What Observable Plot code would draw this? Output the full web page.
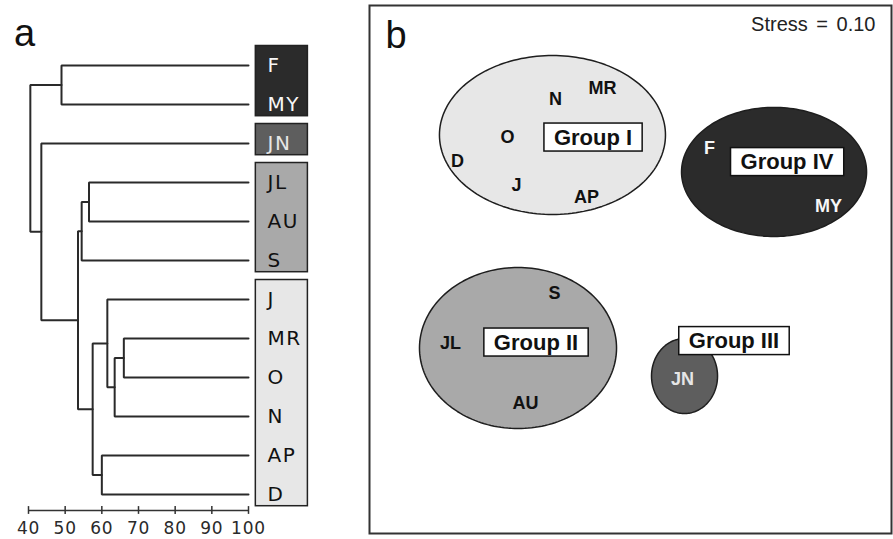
<!DOCTYPE html>
<html>
<head>
<meta charset="utf-8">
<script src="https://cdn.jsdelivr.net/npm/d3@7"></script>
<script src="https://cdn.jsdelivr.net/npm/@observablehq/plot@0.6"></script>
<style>
  body { margin: 0; background: #fff; }
  #chart { position: relative; width: 893px; height: 539px; overflow: hidden; background: #fff; }
  #chart svg { position: absolute; top: 0; }
</style>
</head>
<body>
<div id="chart"></div>
<script>
// ---------- (a) cluster dendrogram, Bray-Curtis similarity (%) ----------
const leafNames = ["F", "MY", "JN", "JL", "AU", "S", "J", "MR", "O", "N", "AP", "D"];
const leafGroup = ["IV", "IV", "III", "II", "II", "II", "I", "I", "I", "I", "I", "I"];
// agglomeration steps: node id, its two children, similarity of the fusion
const nodeIds   = ["n1", "n2", "n3", "n4", "n5", "n6", "n7", "n8", "n9", "n10", "n11"];
const nodeLeft  = ["F",  "JL", "n2", "MR", "n4", "J",  "AP", "n6", "n3", "JN", "n1"];
const nodeRight = ["MY", "AU", "S",  "O",  "N",  "n5", "D",  "n7", "n8", "n9", "n10"];
const nodeSim   = [49, 56.5, 54.5, 66, 63.5, 61.5, 60, 57.5, 53.5, 43.5, 40.5];
const simTicks  = [40, 50, 60, 70, 80, 90, 100];

// ---------- (b) nMDS ordination ----------
const siteNames = ["MR", "N", "O", "D", "J", "AP", "F", "MY", "S", "JL", "AU", "JN"];
const siteX     = [-0.215, -0.575, -0.943, -1.326, -0.874, -0.337, 0.605, 1.517, -0.582, -1.379, -0.805, 0.398];
const siteY     = [1.371, 1.288, 1.000, 0.818, 0.636, 0.545, 0.917, 0.477, -0.182, -0.561, -1.015, -0.833];
const siteGroup = ["I", "I", "I", "I", "I", "I", "IV", "IV", "II", "II", "II", "III"];

const groupNames = ["I", "II", "III", "IV"];
const groupCx    = [-0.598, -0.862, 0.414, 1.100];
const groupCy    = [1.019, -0.595, -0.807, 0.739];
const groupRx    = [0.866, 0.755, 0.253, 0.709];
const groupRy    = [0.602, 0.610, 0.284, 0.489];
const groupLabelX = [-0.287, -0.724, 0.793, 1.199];
const groupLabelY = [1.000, -0.553, -0.542, 0.814];
const stress = 0.10;

// shading per group
const groupShade = { I: "#e7e7e7", II: "#a9a9a9", III: "#5e5e5e", IV: "#2b2b2b" };
const groupInk   = { I: "#111", II: "#111", III: "#e6e6e6", IV: "#f7f7f7" };

// ----- build dendrogram elbows -----
const pos = new Map(leafNames.map((n, i) => [n, { x: 100, y: i }]));
const elbows = [];
nodeIds.forEach((id, k) => {
  const a = pos.get(nodeLeft[k]), b = pos.get(nodeRight[k]), h = nodeSim[k];
  elbows.push({ id, x: a.x, y: a.y }, { id, x: h, y: a.y }, { id, x: h, y: b.y }, { id, x: b.x, y: b.y });
  pos.set(id, { x: h, y: (a.y + b.y) / 2 });
});

// group boxes around the leaf labels
const leafBoxes = [];
leafGroup.forEach((g, i) => {
  const last = leafBoxes[leafBoxes.length - 1];
  if (last && last.group === g) last.to = i;
  else leafBoxes.push({ group: g, from: i, to: i });
});
const leaves = leafNames.map((name, i) => ({ name, i, group: leafGroup[i] }));

const axisRow = 11.41;
const left = Plot.plot({
  width: 320, height: 539,
  marginLeft: 28, marginRight: 72, marginTop: 65, marginBottom: 29,
  x: { domain: [40, 100], label: null },
  y: { domain: [0, axisRow], reverse: true, axis: null },
  color: { type: "identity" },
  style: { fontFamily: "DejaVu Sans", background: "transparent", overflow: "visible", color: "#2a2a2a" },
  marks: [
    Plot.rect(leafBoxes, {
      x1: 102, x2: 116.2,
      y1: d => d.from - 0.5, y2: d => d.to + 0.3,
      fill: d => groupShade[d.group], stroke: "#222", strokeWidth: 1.5
    }),
    Plot.text(leaves, {
      x: 100, dx: 19, y: "i", text: "name", textAnchor: "start",
      fill: d => groupInk[d.group], fontSize: 20
    }),
    Plot.line(elbows, { x: "x", y: "y", z: "id", stroke: "#2a2a2a", strokeWidth: 2, strokeLinejoin: "miter", curve: "linear" }),
    Plot.ruleY([axisRow], { x1: 40, x2: 100, stroke: "#333", strokeWidth: 1.5 }),
    Plot.ruleX(simTicks, { x: d => d, y1: axisRow - 0.1, y2: axisRow + 0.1, stroke: "#333", strokeWidth: 1.5 }),
    Plot.axisX(simTicks, { tickSize: 0, tickPadding: 11, fontSize: 17, fill: "#2a2a2a", label: null }),
    Plot.text(["a"], {
      text: d => d, frameAnchor: "top-left", textAnchor: "start", lineAnchor: "bottom",
      dx: -14.5, dy: -20, fontSize: 38, fontFamily: "Liberation Sans", fill: "#111"
    })
  ]
});

// ----- ordination panel -----
const sites = siteNames.map((name, i) => ({ name, x: siteX[i], y: siteY[i], group: siteGroup[i] }));
const groups = groupNames.map((name, i) => ({
  name, cx: groupCx[i], cy: groupCy[i], rx: groupRx[i], ry: groupRy[i], lx: groupLabelX[i], ly: groupLabelY[i]
}));
const outline = g => d3.range(0, 360, 2).map(a => {
  const t = a * Math.PI / 180;
  return { x: g.cx + g.rx * Math.cos(t), y: g.cy + g.ry * Math.sin(t) };
});

const right = Plot.plot({
  width: 533, height: 539,
  marginLeft: 9, marginRight: 2, marginTop: 5, marginBottom: 6,
  x: { domain: [-2, 2], axis: null },
  y: { domain: [-2, 2], axis: null },
  color: { type: "identity" },
  style: { fontFamily: "Liberation Sans", background: "transparent", overflow: "visible" },
  marks: [
    ...groups.map(g => Plot.line(outline(g), {
      x: "x", y: "y", curve: "linear-closed", fill: groupShade[g.name], stroke: "#1e1e1e", strokeWidth: 1.5
    })),
    Plot.text(sites, {
      x: "x", y: "y", text: "name", fill: d => groupInk[d.group], fontWeight: "bold", fontSize: 18
    }),
    Plot.text(groups, {
      x: "lx", y: "ly", text: d => `Group ${d.name}`, fill: "#111", fontWeight: "bold", fontSize: 22
    }),
    Plot.text([`Stress = ${stress.toFixed(2)}`], {
      text: d => d, frameAnchor: "top-right", textAnchor: "end", lineAnchor: "middle",
      dx: -16, dy: 19.5, fontSize: 20, fill: "#222"
    }),
    Plot.text(["b"], {
      text: d => d, frameAnchor: "top-left", textAnchor: "start", lineAnchor: "bottom",
      dx: 16, dy: 42, fontSize: 38, fill: "#111"
    }),
    Plot.frame({ stroke: "#333", strokeWidth: 2 })
  ]
});

const chart = document.getElementById("chart");
left.style.left = "0px";
right.style.left = "360px";
chart.append(left, right);

// spaced lettering for the month codes and the similarity scale
left.querySelectorAll("text").forEach(t => {
  if (leafNames.includes(t.textContent)) t.setAttribute("letter-spacing", "1.5");
  else if (/^\d+$/.test(t.textContent)) t.setAttribute("letter-spacing", "0.8");
});
right.querySelectorAll("text").forEach(t => {
  if (t.textContent.startsWith("Stress")) t.setAttribute("word-spacing", "3");
});

// white boxes behind the group names
const svgNS = "http://www.w3.org/2000/svg";
right.querySelectorAll("text").forEach(t => {
  if (!t.textContent.startsWith("Group ")) return;
  const bb = t.getBBox();
  const r = document.createElementNS(svgNS, "rect");
  r.setAttribute("x", bb.x - 10);
  r.setAttribute("width", bb.width + 20);
  r.setAttribute("y", bb.y + bb.height / 2 - 14);
  r.setAttribute("height", 28);
  r.setAttribute("fill", "#fff");
  r.setAttribute("stroke", "#111");
  r.setAttribute("stroke-width", 1.5);
  const tr = t.getAttribute("transform");
  if (tr) r.setAttribute("transform", tr);
  t.parentNode.insertBefore(r, t);
});
</script>
</body>
</html>
